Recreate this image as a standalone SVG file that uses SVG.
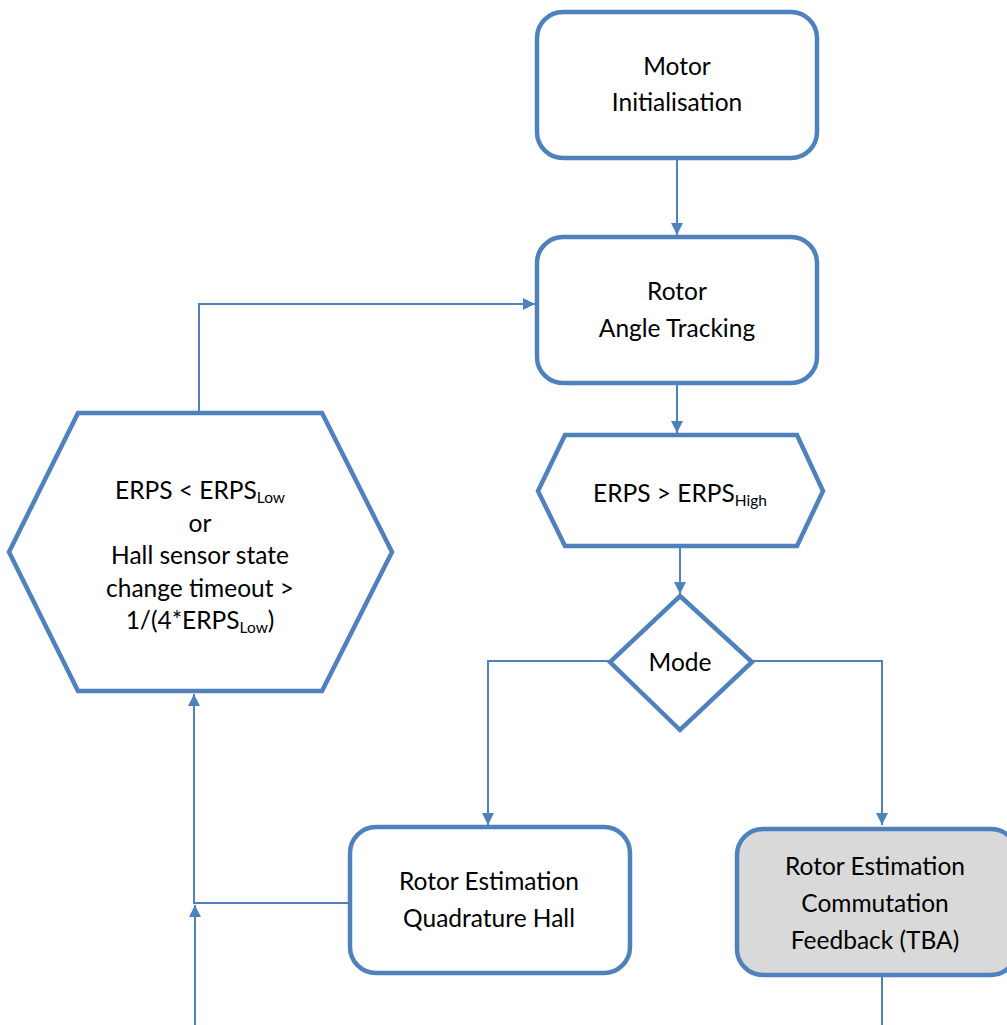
<svg xmlns="http://www.w3.org/2000/svg" width="1007" height="1025" viewBox="0 0 1007 1025">
<style>
.node{fill:#ffffff;stroke:#4F81BD;stroke-width:4.5;stroke-linejoin:miter}
.gray{fill:#D9D9D9}
.conn{fill:none;stroke:#4F81BD;stroke-width:2}
text{font-family:Lato,"Open Sans","Liberation Sans",sans-serif;font-size:24.5px;fill:#000;text-anchor:middle}
.sub{font-size:15.5px}
</style>
<defs>
<marker id="arr" viewBox="0 0 10 10" refX="10" refY="5" markerWidth="12" markerHeight="12" markerUnits="userSpaceOnUse" orient="auto">
<path d="M0,0 L10,5 L0,10 z" fill="#4F81BD"/>
</marker>
</defs>
<rect width="1007" height="1025" fill="#ffffff"/>
<g id="connectors">
<line class="conn" x1="677" y1="158" x2="677" y2="235" marker-end="url(#arr)"/>
<line class="conn" x1="677" y1="383" x2="677" y2="433" marker-end="url(#arr)"/>
<line class="conn" x1="680" y1="547" x2="680" y2="594" marker-end="url(#arr)"/>
<polyline class="conn" points="610,661 488,661 488,825" marker-end="url(#arr)"/>
<polyline class="conn" points="752,661 882,661 882,825" marker-end="url(#arr)"/>
<polyline class="conn" points="199,413 199,304 535,304" marker-end="url(#arr)"/>
<polyline class="conn" points="350,903 194,903 194,694" marker-end="url(#arr)"/>
<line class="conn" x1="195" y1="1025" x2="195" y2="905" marker-end="url(#arr)"/>
<line class="conn" x1="882" y1="975" x2="882" y2="1025"/>
</g>
<g id="motor-init">
<rect class="node" x="537" y="12" width="280" height="146" rx="26"/>
<text x="677" y="75">Motor</text>
<text x="677" y="111">Initialisation</text>
</g>
<g id="rotor-angle">
<rect class="node" x="537" y="237" width="280" height="146" rx="26"/>
<text x="677" y="300">Rotor</text>
<text x="677" y="337">Angle Tracking</text>
</g>
<g id="erps-high">
<polygon class="node" points="565,435 797,435 823,491 797,546 565,546 538,491"/>
<text x="680" y="502">ERPS &gt; ERPS<tspan class="sub" dy="4">High</tspan></text>
</g>
<g id="mode">
<polygon class="node" points="680,596 752,662 680,730 610,662"/>
<text x="680" y="671">Mode</text>
</g>
<g id="erps-low">
<polygon class="node" points="78,413 322,413 392,552 322,691 78,691 9,552"/>
<text x="200" y="499">ERPS &lt; ERPS<tspan class="sub" dy="4">Low</tspan></text>
<text x="200" y="532">or</text>
<text x="200" y="564">Hall sensor state</text>
<text x="200" y="597">change timeout &gt;</text>
<text x="200" y="629">1/(4*ERPS<tspan class="sub" dy="4">Low</tspan><tspan dy="-4">)</tspan></text>
</g>
<g id="quad-hall">
<rect class="node" x="350" y="827" width="280" height="146" rx="26"/>
<text x="489" y="890">Rotor Estimation</text>
<text x="489" y="927">Quadrature Hall</text>
</g>
<g id="commutation">
<rect class="node gray" x="737" y="829" width="280" height="146" rx="26"/>
<text x="875" y="875">Rotor Estimation</text>
<text x="875" y="912">Commutation</text>
<text x="875" y="949">Feedback (TBA)</text>
</g>
</svg>
